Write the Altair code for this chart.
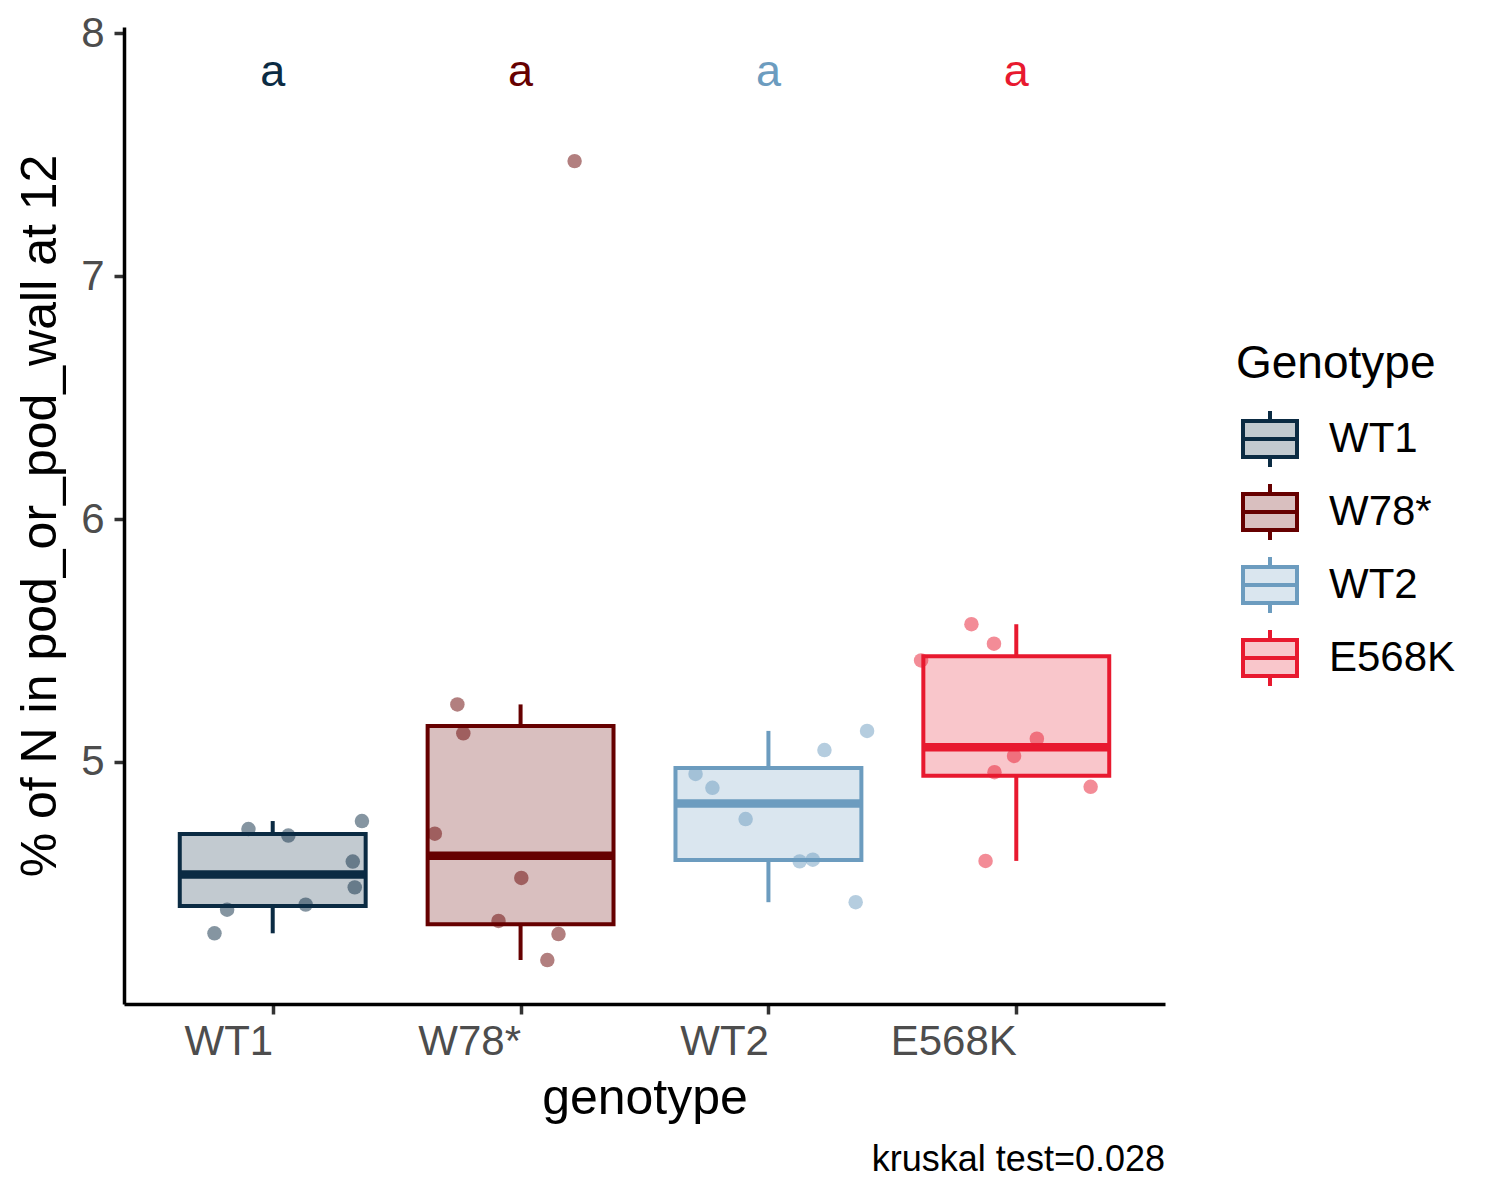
import altair as alt
import pandas as pd

FONT = "Liberation Sans"

GENOTYPES = ["WT1", "W78*", "WT2", "E568K"]
STROKE_COLORS = ["#0B2B43", "#660000", "#6C9CBF", "#E8192F"]

WT1_VALUES = [4.724, 4.697, 4.757, 4.590, 4.484, 4.413, 4.392, 4.295]
WT1_JITTER = [-0.098, 0.063, 0.360, 0.323, 0.331, 0.133, -0.184, -0.235]
W78_VALUES = [5.237, 5.118, 4.705, 4.523, 4.346, 4.292, 4.185, 7.473]
W78_JITTER = [-0.255, -0.231, -0.346, 0.003, -0.089, 0.153, 0.108, 0.218]
WT2_VALUES = [4.951, 4.894, 4.765, 4.591, 4.598, 5.049, 5.128, 4.423]
WT2_JITTER = [-0.294, -0.226, -0.092, 0.126, 0.179, 0.226, 0.398, 0.352]
E568K_VALUES = [5.567, 5.487, 5.418, 5.096, 5.025, 4.958, 4.898, 4.593]
E568K_JITTER = [-0.181, -0.090, -0.384, 0.083, -0.009, -0.088, 0.300, -0.124]

LETTERS = ["a", "a", "a", "a"]
LETTER_Y = 7.84
CAPTION = "kruskal test=0.028"
Y_TITLE = "% of N in pod_or_pod_wall at 12"
X_TITLE = "genotype"
LEGEND_TITLE = "Genotype"
Y_TICKS = [5, 6, 7, 8]


def tint(hex_color, alpha=0.25):
    h = hex_color.lstrip("#")
    rgb = [int(h[i:i + 2], 16) for i in (0, 2, 4)]
    out = [round(255 * (1 - alpha) + c * alpha) for c in rgb]
    return "#" + "".join(f"{c:02X}" for c in out)


FILL_COLORS = [tint(c) for c in STROKE_COLORS]

series = [
    (WT1_VALUES, WT1_JITTER),
    (W78_VALUES, W78_JITTER),
    (WT2_VALUES, WT2_JITTER),
    (E568K_VALUES, E568K_JITTER),
]
rows = []
for i, (g, (vals, jit)) in enumerate(zip(GENOTYPES, series)):
    for v, j in zip(vals, jit):
        rows.append({"genotype": g, "idx": i + 1, "value": v, "jitter": j})
points_df = pd.DataFrame(rows)

letters_df = pd.DataFrame({
    "genotype": GENOTYPES,
    "idx": list(range(1, len(GENOTYPES) + 1)),
    "letter": LETTERS,
    "ly": [LETTER_Y] * len(GENOTYPES),
})

HALF = 0.375
LW = 4

x_scale = alt.Scale(domain=[0.4, 4.6], nice=False, zero=False)
y_scale = alt.Scale(domain=[4.004, 8.025], nice=False, zero=False)
label_expr = "[" + ",".join("'" + g + "'" for g in GENOTYPES) + "][datum.value - 1]"

x_axis = alt.Axis(
    values=[1, 2, 3, 4], labelExpr=label_expr, title=X_TITLE, grid=False,
    labelAlign="right", labelFont=FONT, labelFontSize=42, labelColor="#4D4D4D",
    labelPadding=7, titleFont=FONT, titleFontSize=50, titleFontWeight="normal",
    titleColor="black", titlePadding=11, domainColor="black", domainWidth=3.5,
    tickColor="#333333", tickWidth=3.5, tickSize=10,
)
y_axis = alt.Axis(
    values=Y_TICKS, title=Y_TITLE, grid=False, labelFont=FONT, labelFontSize=42,
    labelColor="#4D4D4D", labelPadding=10, titleFont=FONT, titleFontSize=50,
    titleFontWeight="normal", titleColor="black", titlePadding=15,
    domainColor="black", domainWidth=3.5, tickColor="#333333", tickWidth=3.5, tickSize=10,
)

# legend scales (boxes only)
fill_scale = alt.Scale(domain=GENOTYPES, range=FILL_COLORS)
stroke_scale = alt.Scale(domain=GENOTYPES, range=STROKE_COLORS)
# colour scale for the other layers (same mapping, listed in reverse order)
color_scale = alt.Scale(domain=GENOTYPES[::-1], range=STROKE_COLORS[::-1])

LEGEND_PATH = "M-1,-0.667H1V0.667H-1Z M-1,0H1 M0,-0.667V-1.04 M0,0.667V1.04"
legend = alt.Legend(
    title=LEGEND_TITLE, orient="none", legendX=1112, legendY=315,
    titleFont=FONT, titleFontSize=46, titleFontWeight="normal", titleColor="black",
    titlePadding=22, titleLimit=600, labelFont=FONT, labelFontSize=42,
    labelColor="black", labelLimit=600, labelOffset=30, symbolType=LEGEND_PATH,
    symbolSize=2916, symbolStrokeWidth=LW, symbolOffset=5, rowPadding=-1, padding=0,
)

COLOR = alt.Color("genotype:N", scale=color_scale, legend=None)

base = alt.Chart(points_df)

stats = base.transform_aggregate(
    q1="q1(value)", med="median(value)", q3="q3(value)", groupby=["genotype", "idx"]
).transform_calculate(
    x1=f"datum.idx - {HALF}", x2=f"datum.idx + {HALF}"
)

whisk = base.transform_joinaggregate(
    q1="q1(value)", q3="q3(value)", groupby=["genotype"]
).transform_calculate(
    iqr="datum.q3 - datum.q1"
).transform_filter(
    "datum.value >= datum.q1 - 1.5 * datum.iqr && datum.value <= datum.q3 + 1.5 * datum.iqr"
).transform_aggregate(
    lo="min(value)", hi="max(value)", q1="min(q1)", q3="min(q3)", groupby=["genotype", "idx"]
)

boxes = stats.mark_rect(strokeWidth=LW).encode(
    x=alt.X("x1:Q", scale=x_scale, axis=x_axis),
    x2="x2:Q",
    y=alt.Y("q1:Q", scale=y_scale, axis=y_axis),
    y2="q3:Q",
    fill=alt.Fill("genotype:N", scale=fill_scale, legend=legend),
    stroke=alt.Stroke("genotype:N", scale=stroke_scale, legend=legend),
)

whisk_hi = whisk.mark_rule(strokeWidth=LW).encode(
    x=alt.X("idx:Q", scale=x_scale, axis=x_axis),
    y=alt.Y("q3:Q", scale=y_scale, axis=y_axis),
    y2="hi:Q",
    color=COLOR,
)
whisk_lo = whisk.mark_rule(strokeWidth=LW).encode(
    x=alt.X("idx:Q", scale=x_scale, axis=x_axis),
    y=alt.Y("lo:Q", scale=y_scale, axis=y_axis),
    y2="q1:Q",
    color=COLOR,
)

medians = stats.mark_rule(strokeWidth=8.5).encode(
    x=alt.X("x1:Q", scale=x_scale, axis=x_axis),
    x2="x2:Q",
    y=alt.Y("med:Q", scale=y_scale, axis=y_axis),
    color=COLOR,
)

pts = base.transform_calculate(
    xj="datum.idx + datum.jitter"
).mark_circle(size=210, opacity=0.5).encode(
    x=alt.X("xj:Q", scale=x_scale, axis=x_axis),
    y=alt.Y("value:Q", scale=y_scale, axis=y_axis),
    color=COLOR,
)

letters = alt.Chart(letters_df).mark_text(
    font=FONT, fontSize=45, baseline="middle", align="center"
).encode(
    x=alt.X("idx:Q", scale=x_scale, axis=x_axis),
    y=alt.Y("ly:Q", scale=y_scale, axis=y_axis),
    text="letter:N",
    color=COLOR,
)

chart = alt.layer(
    boxes, whisk_hi, whisk_lo, medians, pts, letters
).properties(
    width=1041,
    height=977,
    padding={"left": 7, "top": 4, "right": 5, "bottom": 5},
    title=alt.TitleParams(
        CAPTION, orient="bottom", anchor="end", frame="group", font=FONT,
        fontSize=36, fontWeight="normal", color="black", offset=20,
    ),
).configure_view(strokeWidth=0)

chart.save("out.html", embed_options={"renderer": "svg", "actions": False})
